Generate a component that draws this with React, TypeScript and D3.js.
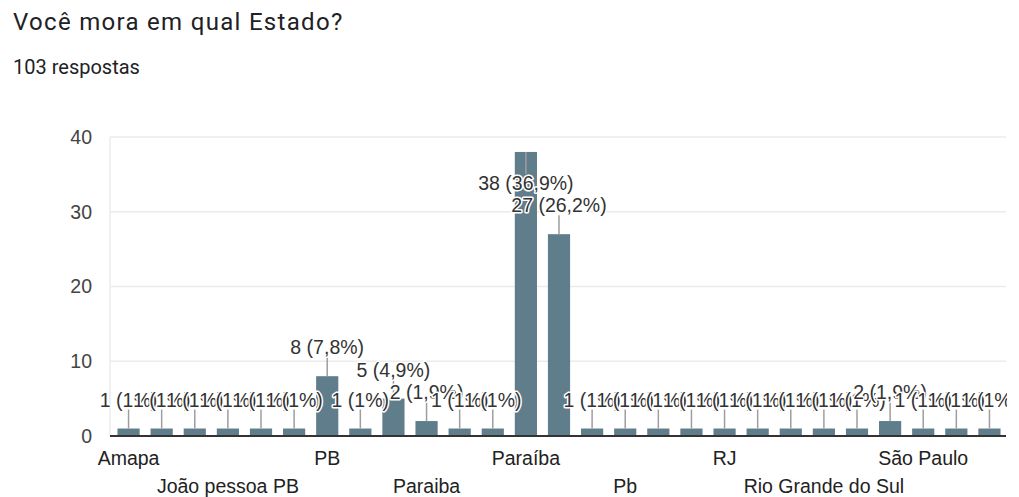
import React from "react";
import * as d3 from "d3";

// Responses per state, in the form's alphabetical order
const categories = [
  "Amapa",
  "Bahia",
  "Distrito Federal",
  "João pessoa PB",
  "Minas Gerais",
  "Natal RN",
  "PB",
  "PB ",
  "PARAIBA",
  "Paraiba",
  "Paraiba PB",
  "Paraiba ",
  "Paraíba",
  "Paraíba ",
  "Paraíba PB",
  "Pb",
  "Pernambuco",
  "Piauí",
  "RJ",
  "Rio de Janeiro",
  "Rio Grande do Norte",
  "Rio Grande do Sul",
  "Rondônia",
  "Santa Catarina",
  "São Paulo",
  "Sergipe",
  "Tocantins",
];
const counts = [1, 1, 1, 1, 1, 1, 8, 1, 5, 2, 1, 1, 38, 27, 1, 1, 1, 1, 1, 1, 1, 1, 1, 2, 1, 1, 1];
const totalResponses = 103;

const yTicks = [0, 10, 20, 30, 40];
const xTickLabels = [
  "Amapa",
  "João pessoa PB",
  "PB",
  "Paraiba",
  "Paraíba",
  "Pb",
  "RJ",
  "Rio Grande do Sul",
  "São Paulo",
];

const W = 1019;
const H = 497;
const plot = { left: 112, right: 1006, top: 137, bottom: 436 };
const axisFont = "'Liberation Sans', Arial, sans-serif";
const titleFont = "Roboto, 'Noto Sans', sans-serif";

const pctFmt = d3.format(".1f");
function pctLabel(v: number) {
  const s = pctFmt((v / totalResponses) * 100).replace(/\.0$/, "").replace(".", ",");
  return `${v} (${s}%)`;
}

export default function App() {
  const x = d3
    .scaleBand<string>()
    .domain(categories)
    .range([plot.left, plot.right])
    .paddingInner(0.33)
    .paddingOuter(0.165);
  const y = d3.scaleLinear().domain([0, 40]).range([plot.bottom, plot.top]);
  const bw = x.bandwidth();

  return (
    <svg width={W} height={H} style={{ position: "absolute", left: 0, top: 0, background: "#fff" }}>
      <defs>
        <clipPath id="plotClip">
          <rect x={0} y={0} width={plot.right + 1} height={H} />
        </clipPath>
      </defs>

      <text x={13} y={30} fontFamily={titleFont} fontSize={24} fill="#202124" letterSpacing={1.3}>
        Você mora em qual Estado?
      </text>
      <text x={13} y={74} fontFamily={titleFont} fontSize={20} fill="#202124">
        103 respostas
      </text>

      {/* gridlines */}
      {yTicks.map((t) => (
        <line key={t} x1={plot.left - 2} x2={plot.right} y1={y(t)} y2={y(t)} stroke="#ebebeb" strokeWidth={1.5} />
      ))}
      <line x1={plot.left - 2} x2={plot.left - 2} y1={plot.top} y2={plot.bottom} stroke="#ebebeb" strokeWidth={1.5} />

      {/* y tick labels */}
      {yTicks.map((t) => (
        <text
          key={t}
          x={92}
          y={y(t)}
          dy="0.35em"
          textAnchor="end"
          fontFamily={axisFont}
          fontSize={19.5}
          fill="#444"
        >
          {t}
        </text>
      ))}

      {/* bars */}
      {categories.map((c, i) => (
        <rect key={c} x={x(c)} y={y(counts[i])} width={bw} height={y(0) - y(counts[i])} fill="#607d8b" />
      ))}

      {/* baseline */}
      <line x1={plot.left - 2} x2={plot.right} y1={y(0)} y2={y(0)} stroke="#333" strokeWidth={2} />

      {/* value annotations with stems */}
      <g clipPath="url(#plotClip)">
        {categories.map((c, i) => {
          const v = counts[i];
          const cx = (x(c) as number) + bw / 2;
          const top = y(v);
          const inside = top - 36 < plot.top;
          const stemEnd = inside ? top + 22 : top - 19;
          const base = inside ? top + 38 : top - 22;
          return (
            <g key={c}>
              <line x1={cx} x2={cx} y1={top} y2={stemEnd} stroke="#9e9e9e" strokeWidth={1.5} />
              <text
                x={cx}
                y={base}
                textAnchor="middle"
                fontFamily={axisFont}
                fontSize={19.5}
                fill="#333"
                stroke="#fff"
                strokeWidth={3}
                paintOrder="stroke"
                strokeLinejoin="round"
              >
                {pctLabel(v)}
              </text>
            </g>
          );
        })}
      </g>

      {/* category labels, staggered over two rows */}
      {xTickLabels.map((l, k) => (
        <text
          key={l}
          x={(x(l) as number) + bw / 2}
          y={k % 2 === 0 ? 465 : 493}
          textAnchor="middle"
          fontFamily={axisFont}
          fontSize={19.5}
          fill="#222"
        >
          {l}
        </text>
      ))}
    </svg>
  );
}
